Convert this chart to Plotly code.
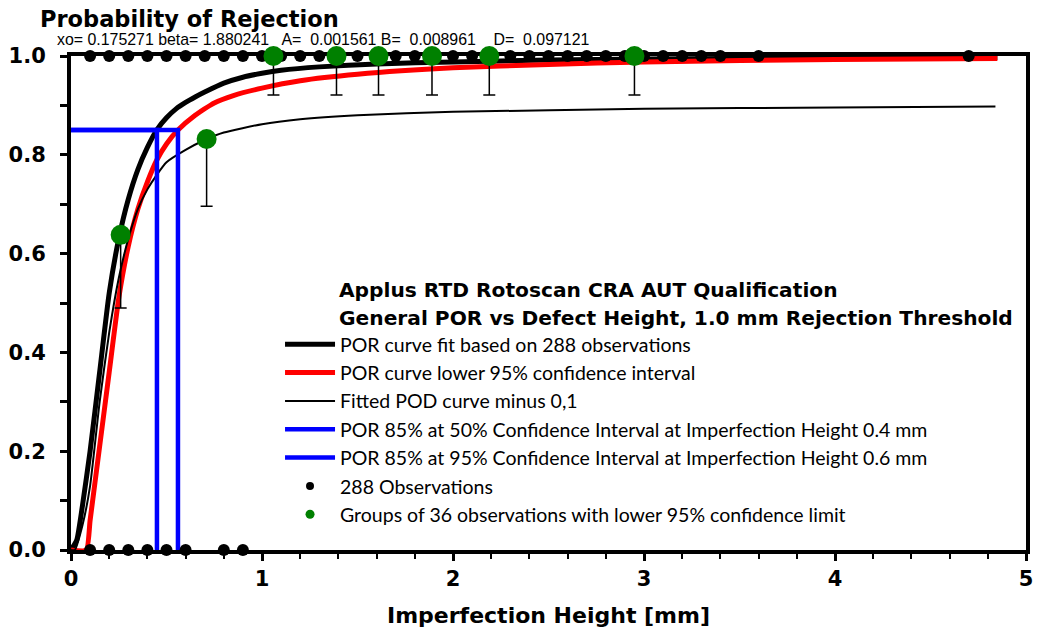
import plotly.graph_objects as go

# ---------------- data ----------------
por_x = [0.00, 0.03, 0.06, 0.10, 0.15, 0.20, 0.25, 0.30, 0.35, 0.40, 0.45, 0.50,
         0.55, 0.60, 0.65, 0.70, 0.80, 0.90, 1.00, 1.10, 1.30, 1.60, 2.00, 2.50, 3.00, 4.00, 4.85]
por_y = [0.000, 0.020, 0.090, 0.200, 0.360, 0.520, 0.630, 0.710, 0.770, 0.815, 0.851, 0.875,
         0.893, 0.906, 0.917, 0.927, 0.945, 0.957, 0.965, 0.971, 0.978, 0.984, 0.988, 0.992, 0.994, 0.996, 0.997]

low95_x = [0.00, 0.08, 0.10, 0.15, 0.20, 0.25, 0.30, 0.35, 0.40, 0.45, 0.50, 0.56, 0.65,
           0.75, 0.85, 1.00, 1.20, 1.50, 2.00, 2.50, 3.00, 4.00, 4.85]
low95_y = [0.000, 0.000, 0.060, 0.210, 0.360, 0.510, 0.615, 0.690, 0.745, 0.790, 0.822, 0.850, 0.880,
           0.905, 0.920, 0.935, 0.950, 0.963, 0.976, 0.983, 0.988, 0.993, 0.995]

pod_m_x = [0.00, 0.02, 0.06, 0.10, 0.15, 0.20, 0.25, 0.30, 0.35, 0.40, 0.45, 0.50,
           0.60, 0.70, 0.80, 1.00, 1.20, 1.50, 2.00, 3.00, 4.00, 4.84]
pod_m_y = [0.000, 0.000, 0.050, 0.130, 0.300, 0.440, 0.550, 0.630, 0.690, 0.730, 0.760, 0.785,
           0.810, 0.830, 0.845, 0.862, 0.872, 0.880, 0.887, 0.893, 0.896, 0.898]

por85_50_x = [0.0, 0.45, 0.45]
por85_50_y = [0.85, 0.85, 0.0]
por85_95_x = [0.0, 0.56, 0.56]
por85_95_y = [0.85, 0.85, 0.0]

obs_rejected_x = [0.1, 0.2, 0.3, 0.4, 0.5, 0.6, 0.7, 0.8, 0.9, 1.0, 1.1, 1.2, 1.3, 1.4,
                  1.5, 1.6, 1.7, 1.8, 1.9, 2.0, 2.1, 2.2, 2.3, 2.4, 2.5, 2.6, 2.7, 2.8,
                  2.9, 3.0, 3.1, 3.2, 3.3, 3.4, 3.6, 4.7]
obs_accepted_x = [0.1, 0.2, 0.3, 0.4, 0.5, 0.6, 0.8, 0.9]

group_x = [0.26, 0.71, 1.06, 1.39, 1.61, 1.89, 2.19, 2.95]
group_y = [0.638, 0.832, 1.0, 1.0, 1.0, 1.0, 1.0, 1.0]
group_low95 = [0.49, 0.696, 0.921, 0.921, 0.921, 0.921, 0.921, 0.921]

param_text = ("xo= 0.175271 beta= 1.880241\u00a0\u00a0 A=\u00a0 0.001561 B=\u00a0 0.008961"
              "\u00a0\u00a0\u00a0 D=\u00a0 0.097121")

# ---------------- figure ----------------
fig = go.Figure()

curve_line = dict(shape="spline", smoothing=0.5)
fig.add_trace(go.Scatter(x=por_x, y=por_y, mode="lines", line=dict(color="black", width=5, **curve_line),
                         name="POR curve fit based on 288 observations", cliponaxis=False))
fig.add_trace(go.Scatter(x=low95_x, y=low95_y, mode="lines", line=dict(color="#ff0000", width=5, **curve_line),
                         name="POR curve lower 95% confidence interval", cliponaxis=False))
fig.add_trace(go.Scatter(x=pod_m_x, y=pod_m_y, mode="lines", line=dict(color="black", width=2, **curve_line),
                         name="Fitted POD curve minus 0,1", cliponaxis=False))
fig.add_trace(go.Scatter(x=por85_50_x, y=por85_50_y, mode="lines", line=dict(color="#0000ff", width=4.5),
                         name="POR 85% at 50% Confidence Interval at Imperfection Height 0.4 mm", cliponaxis=False))
fig.add_trace(go.Scatter(x=por85_95_x, y=por85_95_y, mode="lines", line=dict(color="#0000ff", width=4.5),
                         name="POR 85% at 95% Confidence Interval at Imperfection Height 0.6 mm", cliponaxis=False))

obs_x = obs_rejected_x + obs_accepted_x
obs_y = [1.0] * len(obs_rejected_x) + [0.0] * len(obs_accepted_x)
fig.add_trace(go.Scatter(x=obs_x, y=obs_y, mode="markers", marker=dict(color="black", size=12),
                         showlegend=False, cliponaxis=False, hoverinfo="skip"))

err_minus = [g - l for g, l in zip(group_y, group_low95)]
fig.add_trace(go.Scatter(x=group_x, y=group_y, mode="markers", marker=dict(color="#008000", size=20),
                         error_y=dict(type="data", symmetric=False, array=[0] * len(group_x), arrayminus=err_minus,
                                      color="black", thickness=1.5, width=6),
                         showlegend=False, cliponaxis=False))

# legend-only entries for the marker series
fig.add_trace(go.Scatter(x=[None], y=[None], mode="markers", marker=dict(color="black", size=8),
                         name="288 Observations"))
fig.add_trace(go.Scatter(x=[None], y=[None], mode="markers", marker=dict(color="#008000", size=9),
                         name="Groups of 36 observations with lower 95% confidence limit"))

L, R, T, B = 69, 9, 56, 85
W, H = 1042, 635
PW, PH = W - L - R, H - T - B


def px(xp):
    return (xp - L) / PW


def py(yp):
    return (H - B - yp) / PH


BOLD = "DejaVu Sans, Liberation Sans, Arial, sans-serif"
tick_font = dict(family=BOLD, size=21, color="black")
title_font = dict(family=BOLD, size=22.5, color="black")
axis_title_font = dict(family=BOLD, size=22, color="black")

fig.update_layout(
    width=W, height=H,
    margin=dict(l=L, r=R, t=T, b=B),
    paper_bgcolor="white", plot_bgcolor="white",
    showlegend=True,
    legend=dict(x=px(280), y=py(325), xanchor="left", yanchor="top",
                font=dict(family="Lato", size=19.5, color="black"),
                bgcolor="rgba(0,0,0,0)", borderwidth=0, itemwidth=50,
                tracegroupgap=0),
    xaxis=dict(range=[0, 5], dtick=1, tick0=0, showgrid=False, zeroline=False,
               showline=True, linecolor="black", linewidth=4, mirror=True,
               ticks="outside", ticklen=7, tickwidth=3, tickcolor="black",
               minor=dict(dtick=0.2, ticks="outside", ticklen=5, tickwidth=2, tickcolor="black"),
               tickfont=tick_font, layer="below traces",
               title=dict(text="<b>Imperfection Height [mm]</b>", font=axis_title_font, standoff=18)),
    yaxis=dict(range=[0, 1], dtick=0.2, tick0=0, tickformat=".1f", showgrid=False, zeroline=False,
               showline=True, linecolor="black", linewidth=4, mirror=True,
               ticks="outside", ticklen=7, tickwidth=3, tickcolor="black",
               minor=dict(dtick=0.1, ticks="outside", ticklen=7, tickwidth=3, tickcolor="black"),
               tickfont=tick_font, layer="below traces", ticklabelstandoff=10),
    annotations=[
        dict(text="<b>Probability of Rejection</b>", xref="paper", yref="paper",
             x=px(36), y=py(19), xanchor="left", yanchor="middle", showarrow=False,
             font=title_font),
        dict(text=param_text, xref="paper", yref="paper",
             x=px(53), y=py(40), xanchor="left", yanchor="middle", showarrow=False,
             font=dict(family="Liberation Sans, Arial, sans-serif", size=15.9, color="black")),
        dict(text="<b>Applus RTD Rotoscan CRA AUT Qualification</b>", xref="paper", yref="paper",
             x=px(338), y=py(290), xanchor="left", yanchor="middle", showarrow=False,
             font=dict(family=BOLD, size=20.2, color="black")),
        dict(text="<b>General POR vs Defect Height, 1.0 mm Rejection Threshold</b>", xref="paper", yref="paper",
             x=px(338), y=py(318), xanchor="left", yanchor="middle", showarrow=False,
             font=dict(family=BOLD, size=20.2, color="black")),
    ],
)

fig.update_xaxes(tickprefix="<b>", ticksuffix="</b>")
fig.update_yaxes(tickprefix="<b>", ticksuffix="</b>")

fig.write_html("out.html")
